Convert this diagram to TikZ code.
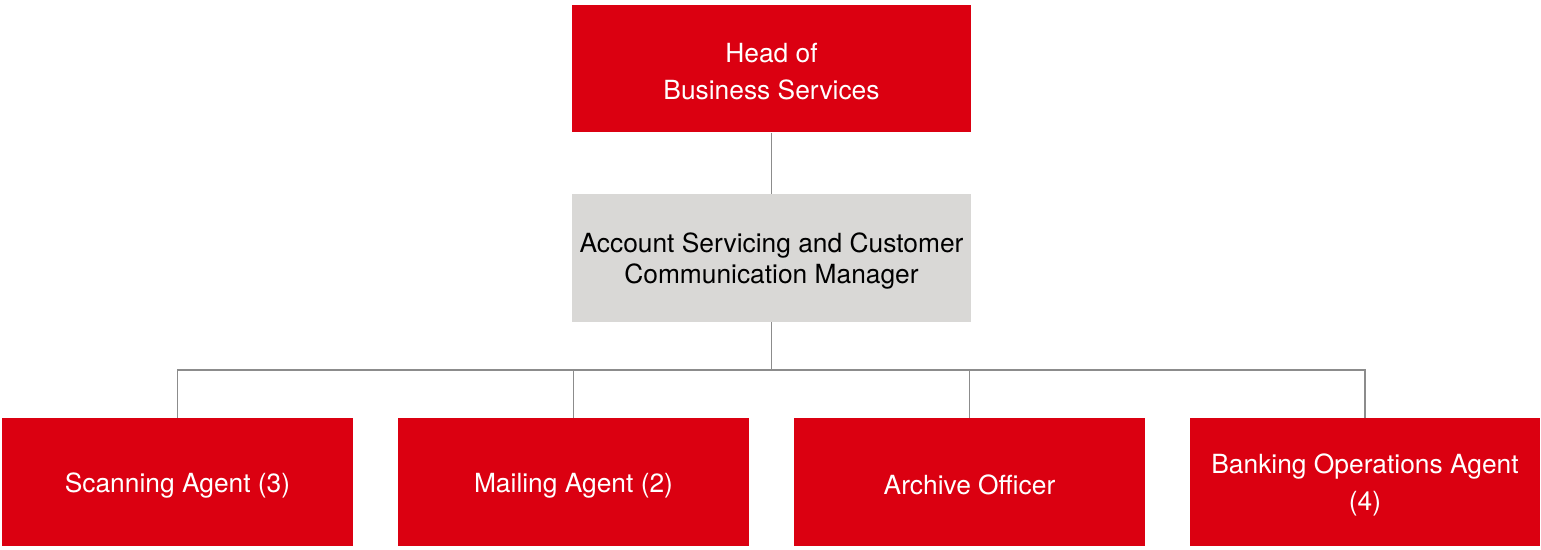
\documentclass[tikz,border=0pt]{standalone}
\usepackage{fontspec}
\setmainfont{TeX Gyre Heros}
\definecolor{bsred}{HTML}{DB0011}
\definecolor{bsgrey}{HTML}{D9D8D6}
\definecolor{bsline}{HTML}{8C8C8C}
\begin{document}
\begin{tikzpicture}
	[x=0.02cm,y=-0.02cm,
	 lift/.style={execute at begin node={\rule{0pt}{#1}}},
	 topbox/.style={fill=bsred,text=white,minimum width=7.98cm,minimum height=2.55cm,
	   inner sep=0pt,align=center,font=\fontsize{15}{21}\selectfont,lift=36pt},
	 mgrbox/.style={fill=bsgrey,text=black,minimum width=7.98cm,minimum height=2.56cm,
	   inner sep=0pt,align=center,font=\fontsize{15}{17.5}\selectfont,lift=32pt},
	 agentbox/.style={fill=bsred,text=white,minimum width=7.02cm,minimum height=2.56cm,
	   inner sep=0pt,align=center,font=\fontsize{15}{21}\selectfont,lift=15pt},
	 link/.style={draw=bsline,line width=1.1pt}]
	
	\useasboundingbox (0,0) rectangle (1541,549);
	
	\node[topbox] (head) at (771.5,68.5) {Head of\\Business Services};
	\node[mgrbox] (mgr) at (771.5,258) {Account Servicing and Customer\\Communication Manager};
	
	\node[agentbox] (scan) at (177.5,482) {Scanning Agent (3)};
	\node[agentbox] (mail) at (573.5,482) {Mailing Agent (2)};
	\node[agentbox] (archive) at (969.5,482) {Archive Officer};
	\node[agentbox,lift=36pt] (banking) at (1365,482) {Banking Operations Agent\\(4)};
	
	\coordinate (bus) at (771.5,370);
	\draw[link] (head) -- (mgr);
	\draw[link] (mgr) -- (bus);
	\draw[link] (scan) |- (bus);
	\draw[link] (mail) |- (bus);
	\draw[link] (archive) |- (bus);
	\draw[link] (banking) |- (bus);
	
\end{tikzpicture}
\end{document}
